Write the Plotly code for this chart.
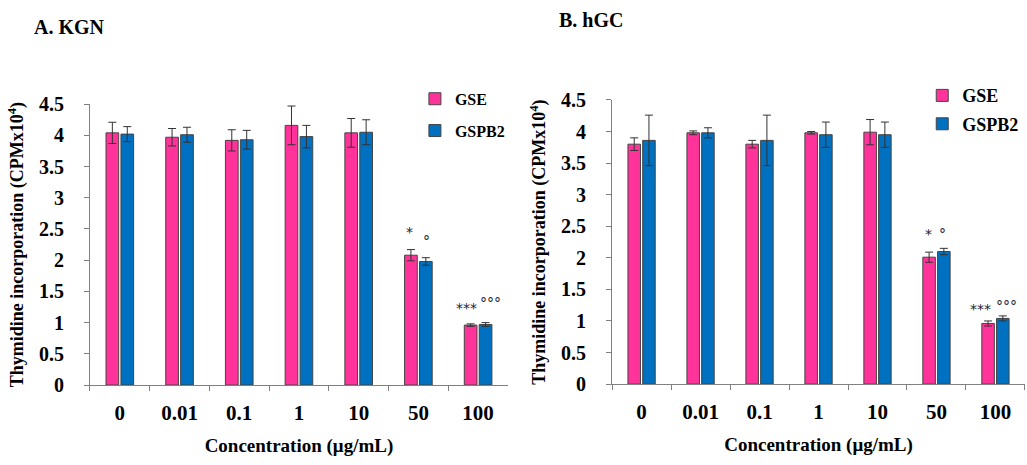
import plotly.graph_objects as go

categories = ["0", "0.01", "0.1", "1", "10", "50", "100"]

# Panel A: KGN
kgn_gse = [4.04, 3.97, 3.92, 4.16, 4.04, 2.08, 0.96]
kgn_gse_err = [0.17, 0.14, 0.17, 0.31, 0.23, 0.09, 0.02]
kgn_gspb2 = [4.02, 4.01, 3.93, 3.98, 4.05, 1.98, 0.97]
kgn_gspb2_err = [0.12, 0.12, 0.15, 0.18, 0.20, 0.06, 0.03]

# Panel B: hGC
hgc_gse = [3.80, 3.98, 3.80, 3.98, 3.99, 2.01, 0.96]
hgc_gse_err = [0.10, 0.03, 0.06, 0.02, 0.20, 0.08, 0.04]
hgc_gspb2 = [3.86, 3.98, 3.86, 3.95, 3.95, 2.10, 1.04]
hgc_gspb2_err = [0.40, 0.08, 0.40, 0.20, 0.20, 0.05, 0.04]

# significance marks: (category, x shift px, y value, text)
kgn_marks = [("50", -9, 2.45, "*"), ("50", 8, 2.31, "°"),
             ("100", -12, 1.23, "***"), ("100", 12, 1.31, "°°°")]
hgc_marks = [("50", -8, 2.37, "*"), ("50", 6, 2.37, "°"),
             ("100", -15, 1.19, "***"), ("100", 11, 1.23, "°°°")]

PINK = "#FF3399"
BLUE = "#0070C0"
SERIF = "Liberation Serif"

fig = go.Figure()

def add_panel(gse, gse_err, gspb2, gspb2_err, xa, ya, legend):
    for name, vals, err, col in [("GSE", gse, gse_err, PINK), ("GSPB2", gspb2, gspb2_err, BLUE)]:
        fig.add_trace(go.Bar(
            x=categories, y=vals, name=name, xaxis=xa, yaxis=ya,
            marker=dict(color=col, line=dict(color="#444444", width=1)),
            error_y=dict(type="data", array=err, color="#333333", thickness=1, width=4),
            legend=legend, legendgroup=name + legend, offsetgroup=name,
        ))

add_panel(kgn_gse, kgn_gse_err, kgn_gspb2, kgn_gspb2_err, "x", "y", "legend")
add_panel(hgc_gse, hgc_gse_err, hgc_gspb2, hgc_gspb2_err, "x2", "y2", "legend2")

xaxis_common = dict(
    type="category", categoryorder="array", categoryarray=categories,
    range=[-0.5, len(categories) - 0.5], automargin=False,
    showline=True, linecolor="#808080", linewidth=1,
    ticks="outside", tickson="boundaries", ticklen=5, tickcolor="#808080",
    tickfont=dict(family=SERIF, size=21, color="black", weight="bold"),
    ticklabelstandoff=9, showgrid=False, zeroline=False, fixedrange=True,
    title=dict(text="Concentration (μg/mL)", font=dict(family=SERIF, size=19, color="black", weight="bold"), standoff=14),
)
yaxis_common = dict(
    range=[0, 4.5], dtick=0.5, automargin=False,
    showline=True, linecolor="#808080", linewidth=1,
    ticks="outside", ticklen=5, tickcolor="#808080",
    tickfont=dict(family=SERIF, size=20, color="black", weight="bold"),
    ticklabelstandoff=16, showgrid=False, zeroline=False,
    title=dict(text="Thymidine incorporation (CPMx10<sup>4</sup>)",
               font=dict(family=SERIF, size=18, color="black", weight="bold"), standoff=10),
)

fig.update_layout(
    width=1027, height=465,
    margin=dict(l=0, r=0, t=0, b=0, autoexpand=False),
    plot_bgcolor="white", paper_bgcolor="white",
    barmode="group", bargap=0.5, bargroupgap=0.15,
    xaxis=dict(domain=[0.0876, 0.4946], anchor="y", **xaxis_common),
    yaxis=dict(domain=[0.172, 0.776], anchor="x", **yaxis_common),
    xaxis2=dict(domain=[0.596, 0.998], anchor="y2", **xaxis_common),
    yaxis2=dict(domain=[0.174, 0.785], anchor="x2", **yaxis_common),
    legend=dict(x=0.404, y=0.824, xanchor="left", yanchor="top",
                font=dict(family=SERIF, size=16, color="black", weight="bold"),
                tracegroupgap=8, traceorder="grouped", bgcolor="rgba(0,0,0,0)"),
    legend2=dict(x=0.898, y=0.834, xanchor="left", yanchor="top",
                 font=dict(family=SERIF, size=18, color="black", weight="bold"),
                 tracegroupgap=2, traceorder="grouped", bgcolor="rgba(0,0,0,0)"),
    showlegend=True,
)

annotations = [
    dict(text="A. KGN", x=0.031, y=1 - 27 / 465, xref="paper", yref="paper", xanchor="left", yanchor="middle",
         showarrow=False, font=dict(family=SERIF, size=20, color="black", weight="bold")),
    dict(text="B. hGC", x=0.542, y=1 - 20 / 465, xref="paper", yref="paper", xanchor="left", yanchor="middle",
         showarrow=False, font=dict(family=SERIF, size=20, color="black", weight="bold")),
]
for marks, xr, yr in [(kgn_marks, "x", "y"), (hgc_marks, "x2", "y2")]:
    for cat, shift, yv, txt in marks:
        annotations.append(dict(text=txt, x=categories.index(cat), y=yv, xref=xr, yref=yr,
                                xshift=shift, showarrow=False, yanchor="middle",
                                font=dict(family="DejaVu Sans", size=14, color="#222233")))
fig.update_layout(annotations=annotations)

fig.write_html("out.html")
